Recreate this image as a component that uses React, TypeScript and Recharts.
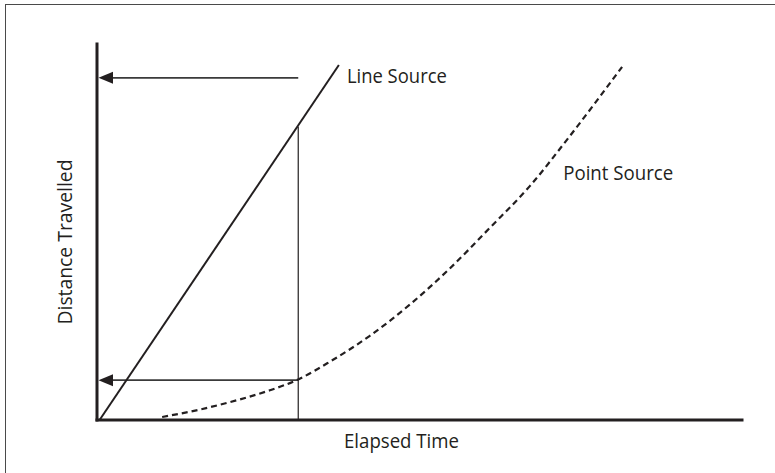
import React from "react";
import { LineChart, Line, XAxis, YAxis, ReferenceLine, ReferenceDot } from "recharts";

// Elapsed time (x) and distance travelled (y), both on a 0–100 schematic scale
const lineSourceTime = [0.4, 37.5];
const lineSourceDistance = [0, 94.4];

const pointSourceTime = [10.1, 16.0, 22.2, 26.8, 31.2, 36.1, 42.3, 48.5, 54.7, 60.9, 67.1, 73.3, 81.4];
const pointSourceDistance = [0.8, 2.8, 5.5, 7.9, 10.8, 15.5, 22.4, 30.7, 40.3, 51.1, 62.2, 75.5, 93.9];

const markerTime = 31.2; // vertical guide
const markerTop = 78; // where guide meets the line source
const upperArrowDistance = 91;
const lowerArrowDistance = 10.6;

const xLabel = "Elapsed Time";
const yLabel = "Distance Travelled";
const lineSourceLabel = "Line Source";
const pointSourceLabel = "Point Source";

const lineSourceData = lineSourceTime.map((t, i) => ({ t, d: lineSourceDistance[i] }));
const pointSourceData = pointSourceTime.map((t, i) => ({ t, d: pointSourceDistance[i] }));

const INK = "#231f20";
const FONT = "'Open Sans', 'Noto Sans', sans-serif";

const arrowHead = (p: any) => (
  <polygon
    points={`${p.cx + 1.5},${p.cy} ${p.cx + 16},${p.cy - 6} ${p.cx + 16},${p.cy + 6}`}
    fill={INK}
  />
);

const textShape = (label: string, dx: number, dy: number, len: number) => (p: any) => (
  <text
    x={p.cx + dx}
    y={p.cy + dy}
    fontFamily={FONT}
    fontSize={20}
    fill={INK}
    textLength={len}
    lengthAdjust="spacingAndGlyphs"
  >
    {label}
  </text>
);

export default function App() {
  return (
    <div style={{ position: "absolute", left: 0, top: 0, width: 775, height: 473, background: "#fff", overflow: "hidden" }}>
      <div
        style={{
          position: "absolute",
          left: 5,
          top: 4,
          width: 820,
          height: 520,
          borderTop: "1.5px solid #4a4a4a",
          borderLeft: "1.5px solid #4a4a4a",
          boxSizing: "border-box",
        }}
      />
      <div style={{ position: "absolute", left: 0, top: 0 }}>
        <LineChart width={775} height={473} margin={{ top: 44, right: 33, left: 0, bottom: 0 }}>
          <XAxis
            type="number"
            dataKey="t"
            domain={[0, 100]}
            tick={false}
            tickLine={false}
            height={53}
            axisLine={{ stroke: INK, strokeWidth: 3, strokeLinecap: "square" }}
            label={{
              content: (props: any) => {
                const vb = props.viewBox;
                return (
                  <text
                    x={vb.x + vb.width / 2 - 18}
                    y={vb.y + 28}
                    textAnchor="middle"
                    fontFamily={FONT}
                    fontSize={20}
                    fill={INK}
                    textLength={115}
                    lengthAdjust="spacingAndGlyphs"
                  >
                    {xLabel}
                  </text>
                );
              },
            }}
          />
          <YAxis
            type="number"
            dataKey="d"
            domain={[0, 100]}
            tick={false}
            tickLine={false}
            width={97}
            axisLine={{ stroke: INK, strokeWidth: 3, strokeLinecap: "square" }}
            label={{
              content: (props: any) => {
                const vb = props.viewBox;
                const cx = 72;
                const cy = vb.y + vb.height / 2 + 10;
                return (
                  <text
                    x={cx}
                    y={cy}
                    transform={`rotate(-90 ${cx} ${cy})`}
                    textAnchor="middle"
                    fontFamily={FONT}
                    fontSize={20}
                    fill={INK}
                    textLength={165}
                    lengthAdjust="spacingAndGlyphs"
                  >
                    {yLabel}
                  </text>
                );
              },
            }}
          />
          <ReferenceLine
            segment={[{ x: markerTime, y: 0 }, { x: markerTime, y: markerTop }]}
            stroke={INK}
            strokeWidth={1.2}
          />
          <ReferenceLine
            segment={[{ x: markerTime, y: upperArrowDistance }, { x: 1, y: upperArrowDistance }]}
            stroke="#3a3a3a"
            strokeWidth={1.6}
          />
          <ReferenceLine
            segment={[{ x: markerTime, y: lowerArrowDistance }, { x: 1, y: lowerArrowDistance }]}
            stroke="#3a3a3a"
            strokeWidth={1.6}
          />
          <ReferenceDot x={0} y={upperArrowDistance} r={0} shape={arrowHead} />
          <ReferenceDot x={0} y={lowerArrowDistance} r={0} shape={arrowHead} />
          <Line
            data={lineSourceData}
            dataKey="d"
            type="linear"
            stroke={INK}
            strokeWidth={2}
            dot={false}
            activeDot={false}
            isAnimationActive={false}
          />
          <Line
            data={pointSourceData}
            dataKey="d"
            type="monotone"
            stroke={INK}
            strokeWidth={2.2}
            strokeDasharray="6 4"
            dot={false}
            activeDot={false}
            isAnimationActive={false}
          />
          <ReferenceDot
            x={lineSourceTime[1]}
            y={lineSourceDistance[1]}
            r={0}
            shape={textShape(lineSourceLabel, 8, 18, 100)}
          />
          <ReferenceDot
            x={69.8}
            y={66.8}
            r={0}
            shape={textShape(pointSourceLabel, 16, 11, 110)}
          />
        </LineChart>
      </div>
    </div>
  );
}
